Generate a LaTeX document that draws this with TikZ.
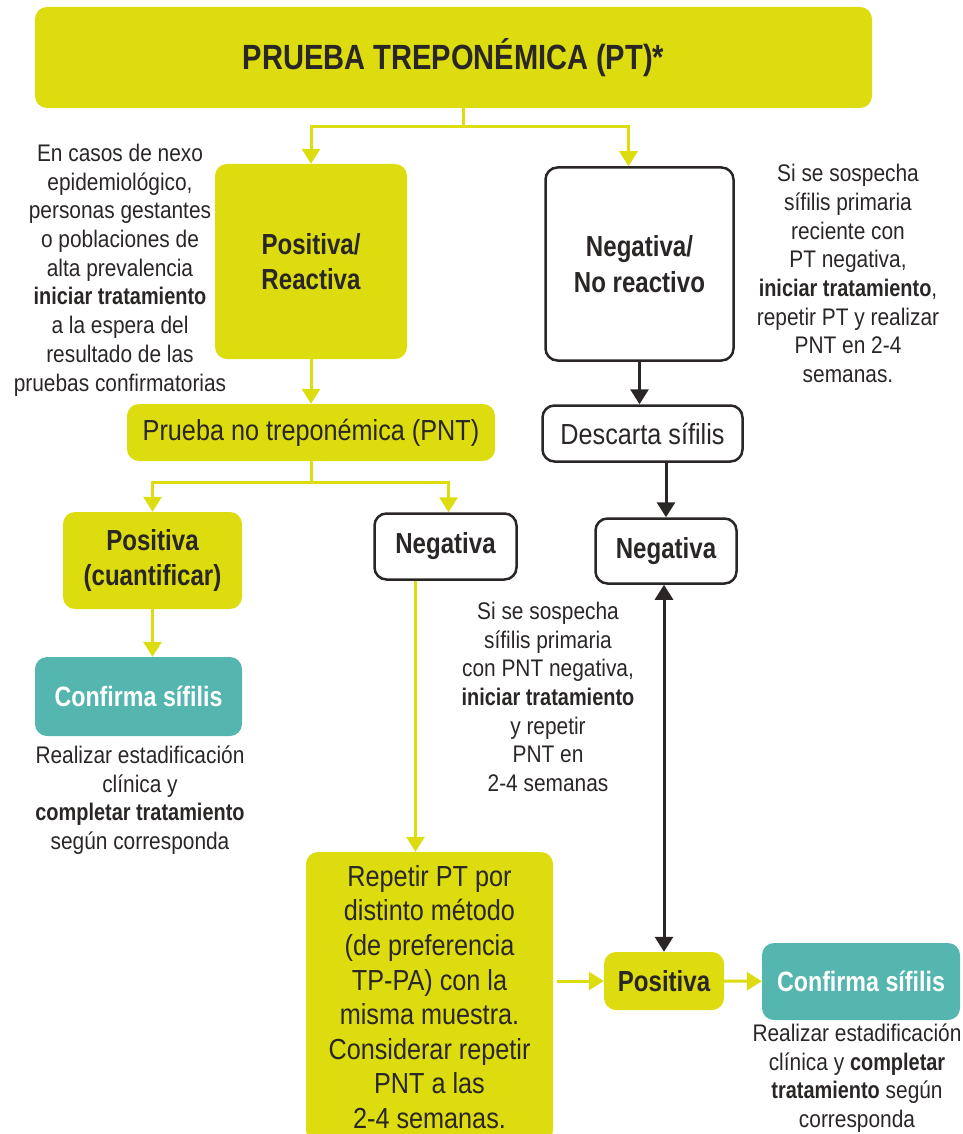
\documentclass[tikz,border=0pt]{standalone}
\usepackage{fontspec}
\setmainfont{Liberation Sans}[FakeStretch=0.87, BoldFeatures={FakeStretch=0.83}]
\usetikzlibrary{arrows.meta, positioning}
\definecolor{sifYellow}{HTML}{DCDC0E}
\definecolor{sifTeal}{HTML}{55B5AF}
\definecolor{sifInk}{HTML}{2B2626}

\begin{document}
\begin{tikzpicture}[x=1pt, y=-1pt,
  ybox/.style={fill=sifYellow, rounded corners=12pt, align=center, text=sifInk, inner sep=0pt},
  wbox/.style={draw=sifInk, line width=2.5pt, fill=white, rounded corners=12pt,
    align=center, text=sifInk, inner sep=0pt},
  tbox/.style={fill=sifTeal, rounded corners=12pt, align=center, text=white, inner sep=0pt,
    font=\fontsize{28}{32}\selectfont\bfseries},
  bold/.style={font=\fontsize{29}{35.5}\selectfont\bfseries},
  plain/.style={font=\fontsize{29}{35.5}\selectfont},
  note/.style={align=center, text=sifInk, inner sep=0pt, font=\fontsize{24}{28.7}\selectfont},
  yline/.style={line width=3pt, sifYellow},
  yarr/.style={-{Triangle[width=18pt,length=15pt]}, line width=3pt, sifYellow},
  barr/.style={-{Triangle[width=18pt,length=15pt]}, line width=3pt, sifInk},
  bboth/.style={{Triangle[width=18pt,length=15pt]}-{Triangle[width=18pt,length=15pt]}, line width=3pt, sifInk}
]
\useasboundingbox (0,0) rectangle (962,1134);

% top
\node[ybox, minimum width=837pt, minimum height=101pt,
  font=\fontsize{35}{40}\selectfont\bfseries] (title) at (453.5,57.5) {PRUEBA TREPONÉMICA (PT)*};
\node[ybox, bold, minimum width=192pt, minimum height=195pt] (reac) at (311,261.5) {Positiva/\\Reactiva};
\node[wbox, bold, minimum width=188pt, minimum height=193pt] (noreac) at (639.5,264) {Negativa/\\No reactivo};

\node[note] (noteL) at (120,270) {En casos de nexo\\epidemiológico,\\personas gestantes\\o poblaciones de\\alta prevalencia\\\textbf{iniciar tratamiento}\\a la espera del\\resultado de las\\pruebas confirmatorias};
\node[note] (noteR) at (848,273.5) {Si se sospecha\\sífilis primaria\\reciente con\\PT negativa,\\\textbf{iniciar tratamiento},\\repetir PT y realizar\\PNT en 2-4\\semanas.};

% second level
\node[ybox, plain, minimum width=368pt, minimum height=57pt] (pnt) at (311,432.5) {Prueba no treponémica (PNT)};
\node[wbox, plain, minimum width=200pt, minimum height=56pt] (desc) at (642.5,433.5) {Descarta sífilis};

\node[ybox, bold, minimum width=179pt, minimum height=97pt] (posq) at (152.5,560.5) {Positiva\\(cuantificar)};
\node[wbox, bold, minimum width=142pt, minimum height=66pt] (negM) at (445.5,546.5) {Negativa};
\node[wbox, bold, minimum width=141pt, minimum height=65pt] (negR) at (666,551) {Negativa};

\node[tbox, minimum width=207pt, minimum height=79pt] (conf1) at (138.5,696.5) {Confirma sífilis};
\node[note] (noteC1) at (140,800) {Realizar estadificación\\clínica y\\\textbf{completar tratamiento}\\según corresponda};
\node[note] (noteM) at (548,697) {Si se sospecha\\sífilis primaria\\con PNT negativa,\\\textbf{iniciar tratamiento}\\y repetir\\PNT en\\2-4 semanas};

% bottom
\node[ybox, minimum width=247pt, minimum height=290pt, font=\fontsize{29}{34.6}\selectfont] (rep) at (429.5,997)
  {Repetir PT por\\distinto método\\(de preferencia\\TP-PA) con la\\misma muestra.\\Considerar repetir\\PNT a las\\2-4 semanas.};
\node[ybox, bold, minimum width=120pt, minimum height=58pt] (pos2) at (664,981) {Positiva};
\node[tbox, minimum width=198pt, minimum height=77pt] (conf2) at (861,981.5) {Confirma sífilis};
\node[note] (noteC2) at (857,1078) {Realizar estadificación\\clínica y \textbf{completar}\\\textbf{tratamiento} según\\corresponda};

% connectors
\coordinate (split1) at (463,127);
\draw[yline] (title.south -| split1) -- (split1);
\draw[yarr] (split1) -| (reac.north);
\draw[yarr] (split1) -| ([xshift=-11pt]noreac.north);
\draw[yarr] (reac) -- (pnt);
\draw[barr] (noreac.south) -- (noreac.south |- desc.north);
\draw[barr] (desc.south -| negR) -- (negR.north);

\draw[yline] (pnt.south) -- ++(0,21) coordinate (split2);
\draw[yarr] (split2) -| (posq.north);
\draw[yarr] (split2) -| ([xshift=3pt]negM.north);
\draw[yarr] (posq.south) -- (posq.south |- conf1.north);
\draw[yarr] ([xshift=-30pt]negM.south) -- ([xshift=-30pt]negM.south |- rep.north);

\draw[bboth] (negR.south -| pos2) -- (pos2.north);
\draw[yarr] ([xshift=4pt]rep.east |- pos2.west) -- (pos2.west);
\draw[yarr] (pos2) -- (conf2);
\end{tikzpicture}
\end{document}
